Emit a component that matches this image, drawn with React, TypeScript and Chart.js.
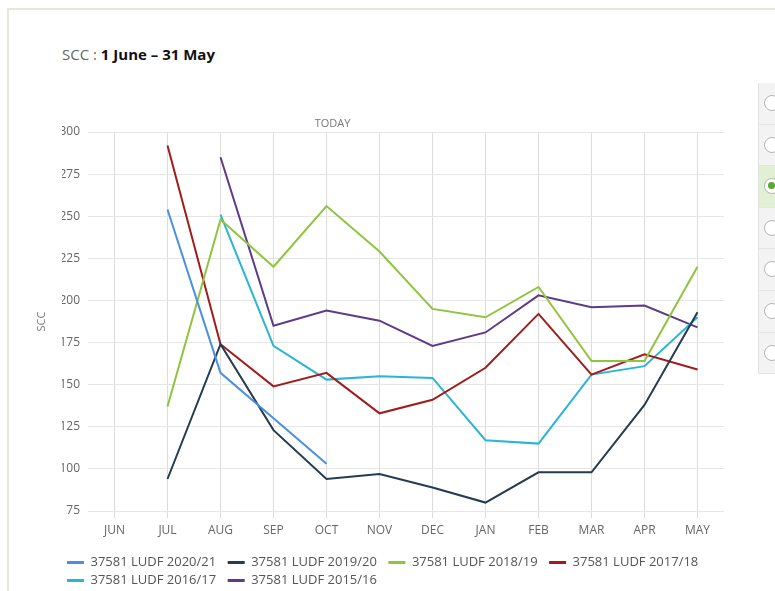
import React, { useEffect, useRef } from 'react';
import { Chart, registerables } from 'chart.js';

Chart.register(...registerables);

const months = ['JUN', 'JUL', 'AUG', 'SEP', 'OCT', 'NOV', 'DEC', 'JAN', 'FEB', 'MAR', 'APR', 'MAY'];

const seriesLabels = [
  '37581 LUDF 2020/21',
  '37581 LUDF 2019/20',
  '37581 LUDF 2018/19',
  '37581 LUDF 2017/18',
  '37581 LUDF 2016/17',
  '37581 LUDF 2015/16',
];

const ludf2020 = [null, 254, 157, 130, 103, null, null, null, null, null, null, null];
const ludf2019 = [null, 94, 174, 123, 94, 97, 89, 80, 98, 98, 138, 193];
const ludf2018 = [null, 137, 248, 220, 256, 229, 195, 190, 208, 164, 164, 220];
const ludf2017 = [null, 292, 174, 149, 157, 133, 141, 160, 192, 156, 168, 159];
const ludf2016 = [null, null, 251, 173, 153, 155, 154, 117, 115, 156, 161, 190];
const ludf2015 = [null, null, 285, 185, 194, 188, 173, 181, 203, 196, 197, 184];

const yMin = 75;
const yMax = 300;
const yStep = 25;

const todayLabel = 'TODAY';
const todayIndex = 4;

const seriesColors = ['#4a90e2', '#263a50', '#8fc43d', '#a01c1c', '#2bb5d5', '#5c3b88'];

export default function App() {
  const ref = useRef<HTMLCanvasElement>(null);

  useEffect(() => {
    if (!ref.current) return;
    Chart.defaults.font.family = "'Open Sans', sans-serif";
    const series = [ludf2020, ludf2019, ludf2018, ludf2017, ludf2016, ludf2015];

    const todayPlugin = {
      id: 'todayLabel',
      afterDraw(chart: any) {
        const { ctx, chartArea, scales } = chart;
        const x = scales.x.getPixelForValue(todayIndex) + 6;
        ctx.save();
        ctx.font = "11px 'Open Sans', sans-serif";
        ctx.fillStyle = '#777';
        ctx.textAlign = 'center';
        ctx.textBaseline = 'middle';
        ctx.fillText(todayLabel, x, chartArea.top - 8);
        ctx.restore();
      },
    };

    const chart = new Chart(ref.current, {
      type: 'line',
      data: {
        labels: months,
        datasets: series.map((d, i) => ({
          label: seriesLabels[i],
          data: d,
          borderColor: seriesColors[i],
          backgroundColor: seriesColors[i],
          borderWidth: 2,
          pointRadius: 0,
          pointHoverRadius: 0,
          tension: 0,
          fill: false,
        })),
      },
      options: {
        responsive: false,
        animation: false,
        layout: { padding: { top: 132, left: 62, right: 51, bottom: 0 } },
        plugins: {
          legend: {
            position: 'bottom',
            align: 'start',
            labels: {
              font: { family: "'Open Sans', sans-serif", size: 13 },
              color: '#555',
              boxWidth: 17,
              boxHeight: 3,
              padding: 5,
              generateLabels: (c: any) =>
                (Chart.defaults.plugins.legend.labels as any)
                  .generateLabels(c)
                  .map((l: any) => ({ ...l, text: l.text + '\u2002', lineWidth: 0 })),
            },
          },
          tooltip: { enabled: false },
        },
        scales: {
          x: {
            offset: true,
            grid: { offset: false, color: '#dcdcdc', tickLength: 7, drawTicks: true, tickColor: '#dcdcdc' },
            border: { display: false },
            ticks: {
              font: { size: 12 },
              color: '#666',
              padding: 5,
              maxRotation: 0,
              autoSkip: false,
            },
            afterFit: (s: any) => {
              s.height = 40;
            },
          },
          y: {
            min: yMin,
            max: yMax,
            ticks: { stepSize: yStep, font: { size: 12 }, color: '#666', padding: 8 },
            grid: { color: '#e6e6e6', drawTicks: false },
            border: { display: false },
            title: {
              display: true,
              text: 'SCC',
              font: { size: 11 },
              color: '#777',
              padding: { top: -27, bottom: 0 },
            },
            afterFit: (s: any) => {
              s.width = 26;
            },
          },
        },
      } as any,
      plugins: [todayPlugin],
    });
    return () => chart.destroy();
  }, []);

  const rows = [0, 1, 2, 3, 4, 5, 6];

  return (
    <div
      style={{
        position: 'fixed',
        left: 0,
        top: 0,
        width: 775,
        height: 591,
        overflow: 'hidden',
        background: '#fff',
        fontFamily: "'Open Sans', sans-serif",
      }}
    >
      <div
        style={{
          position: 'absolute',
          left: 7,
          top: 8,
          width: 820,
          height: 640,
          borderTop: '2px solid #e2e9d9',
          borderLeft: '2px solid #e2e9d9',
          boxSizing: 'border-box',
        }}
      />
      <div
        style={{
          position: 'absolute',
          left: 62,
          top: 44,
          fontSize: 15,
          lineHeight: '20px',
          whiteSpace: 'nowrap',
        }}
      >
        <span style={{ color: '#666' }}>SCC : </span>
        <span style={{ color: '#111', fontWeight: 700 }}>1 June – 31 May</span>
      </div>
      <canvas
        ref={ref}
        width={775}
        height={597}
        style={{ position: 'absolute', left: 0, top: 0, width: 775, height: 597 }}
      />
      <div
        style={{
          position: 'absolute',
          left: 758,
          top: 83,
          width: 40,
          height: 291,
          background: '#f3f3f3',
          borderLeft: '1px solid #e2e2e2',
        }}
      >
        {rows.map((r) => (
          <div
            key={r}
            style={{
              position: 'absolute',
              left: 0,
              top: r * 41.6,
              width: 40,
              height: 41.6,
              boxSizing: 'border-box',
              borderBottom: '1px solid #e4e4e4',
              background: r === 2 ? '#e1f0d5' : 'transparent',
            }}
          >
            <div
              style={{
                position: 'absolute',
                left: 5,
                top: 12,
                width: 16,
                height: 16,
                borderRadius: '50%',
                border: '1.5px solid #b5b5b5',
                background: '#fff',
                boxSizing: 'border-box',
              }}
            >
              {r === 2 ? (
                <div
                  style={{
                    position: 'absolute',
                    left: 3,
                    top: 3,
                    width: 7,
                    height: 7,
                    borderRadius: '50%',
                    background: '#5aa832',
                  }}
                />
              ) : null}
            </div>
          </div>
        ))}
      </div>
    </div>
  );
}
